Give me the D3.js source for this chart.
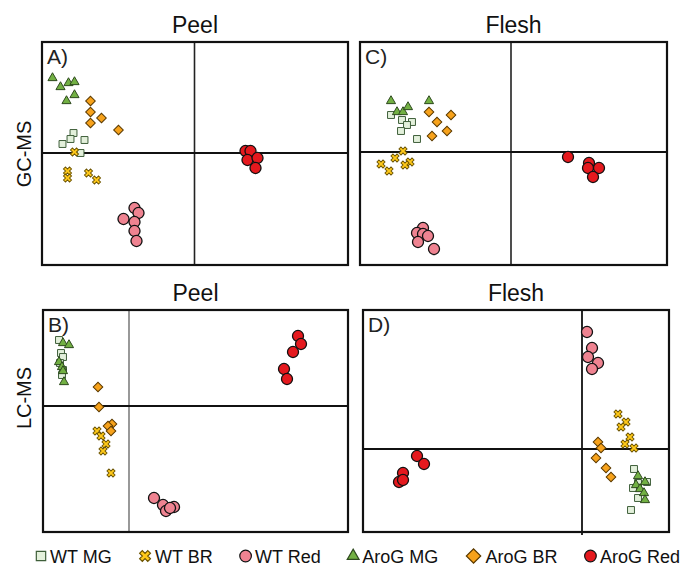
<!DOCTYPE html>
<html><head><meta charset="utf-8">
<script src="https://cdn.jsdelivr.net/npm/d3@7"></script>
<style>
body{margin:0;background:#fff;}
svg{display:block;font-family:"Liberation Sans",Arial,sans-serif;}
</style></head>
<body>
<svg id="chart" width="683" height="570"></svg>
<script>
// ---- Data (PCA scores) ----
const groups = ["WT MG","WT BR","WT Red","AroG MG","AroG BR","AroG Red"];
const panelTitles = ["Peel","Flesh","Peel","Flesh"];
const panelLetters = ["A)","C)","B)","D)"];
const rowLabels = ["GC-MS","LC-MS"];

// Panel A: Peel, GC-MS
const A_WT_MG   = [[-12.1,2.0],[-12.4,1.4],[-13.2,0.9],[-11.0,1.3],[-11.4,0.0]];
const A_WT_BR   = [[-12.0,0.1],[-12.7,-1.8],[-12.7,-2.5],[-10.6,-2.0],[-9.8,-2.7]];
const A_WT_Red  = [[-6.0,-5.5],[-5.6,-6.0],[-7.1,-6.6],[-6.0,-6.9],[-6.0,-7.8],[-5.8,-8.8]];
const A_AroG_MG = [[-14.2,7.5],[-13.4,6.6],[-12.6,7.0],[-12.0,7.1],[-12.8,5.2],[-12.0,5.8]];
const A_AroG_BR = [[-10.4,5.2],[-10.4,4.1],[-9.3,3.5],[-10.4,3.0],[-7.6,2.3]];
const A_AroG_Red= [[5.1,0.2],[5.6,0.2],[5.3,-0.7],[6.3,-0.5],[6.1,-1.5]];

// Panel C: Flesh, GC-MS
const C_WT_MG   = [[-12.0,3.7],[-10.9,3.2],[-9.9,3.0],[-10.4,2.7],[-11.0,2.1],[-9.4,1.3]];
const C_WT_BR   = [[-10.8,0.1],[-11.6,-0.6],[-10.1,-1.0],[-10.6,-1.3],[-13.0,-1.2],[-12.2,-1.9]];
const C_WT_Red  = [[-8.8,-7.6],[-9.4,-8.1],[-8.8,-8.2],[-8.3,-8.4],[-9.3,-9.0],[-7.7,-9.7]];
const C_AroG_MG = [[-12.0,5.1],[-11.4,4.0],[-10.8,4.0],[-10.3,4.5],[-8.2,5.1]];
const C_AroG_BR = [[-8.2,4.0],[-6.0,3.7],[-7.4,3.0],[-6.4,2.1],[-7.9,1.6]];
const C_AroG_Red= [[5.7,-0.5],[7.8,-1.1],[7.7,-1.6],[8.8,-1.6],[8.2,-2.5]];

// Panel B: Peel, LC-MS
const B_WT_MG   = [[-7.0,6.6],[-6.8,5.3],[-6.6,4.9],[-6.9,4.3],[-6.6,3.6],[-6.7,3.1]];
const B_WT_BR   = [[-3.2,-2.5],[-2.8,-3.0],[-2.3,-3.8],[-2.6,-4.5],[-1.8,-6.7]];
const B_WT_Red  = [[2.5,-9.2],[3.4,-9.9],[3.7,-10.5],[4.5,-10.1],[4.1,-10.2]];
const B_AroG_MG = [[-6.6,6.3],[-6.0,6.1],[-7.0,4.4],[-6.7,3.9],[-6.6,3.5],[-6.5,2.4]];
const B_AroG_BR = [[-3.1,1.9],[-3.0,-0.1],[-1.7,-1.8],[-2.1,-2.0],[-1.8,-2.5]];
const B_AroG_Red= [[16.9,7.0],[17.2,6.2],[16.4,5.4],[15.5,3.7],[15.8,2.7]];

// Panel D: Flesh, LC-MS
const D_WT_MG   = [[5.2,-2.0],[5.6,-3.4],[6.5,-3.3],[5.1,-3.9],[5.6,-4.9],[4.9,-6.1]];
const D_WT_BR   = [[3.6,3.5],[4.4,2.7],[3.9,2.2],[4.8,1.2],[4.3,0.5],[5.2,0.1]];
const D_WT_Red  = [[0.5,11.7],[1.0,10.1],[0.6,9.2],[1.6,8.6],[1.0,8.0]];
const D_AroG_MG = [[5.6,-2.7],[6.3,-3.3],[5.4,-3.6],[5.8,-4.0],[6.2,-4.4],[6.3,-5.1]];
const D_AroG_BR = [[1.6,0.7],[1.9,0.1],[1.4,-0.9],[2.4,-1.9],[2.9,-2.8]];
const D_AroG_Red= [[-16.5,-0.7],[-15.8,-1.5],[-17.9,-2.4],[-18.3,-3.3],[-17.9,-3.1]];

// Axis extents of each panel (score units)
const xDomains = [[-15.25,15.35],[-15.1,15.6],[-8.6,21.9],[-21.9,8.7]];
const yDomains = [[-11.2,11.1],[-11.3,11.0],[-12.6,9.6],[-8.3,13.9]];

// ---- Styles ----
const fills   = ["#e3f0db","#ffc91a","#ef8391","#72b043","#f7a21b","#e5191e"];
const strokes = ["#3f5f3a","#6b5300","#111111","#2e4a1e","#5b3a00","#111111"];
const shapes  = ["square","cross","circle","triangle","diamond","circle"];

const panelData = [
  [A_WT_MG,A_WT_BR,A_WT_Red,A_AroG_MG,A_AroG_BR,A_AroG_Red],
  [C_WT_MG,C_WT_BR,C_WT_Red,C_AroG_MG,C_AroG_BR,C_AroG_Red],
  [B_WT_MG,B_WT_BR,B_WT_Red,B_AroG_MG,B_AroG_BR,B_AroG_Red],
  [D_WT_MG,D_WT_BR,D_WT_Red,D_AroG_MG,D_AroG_BR,D_AroG_Red]
];
const boxes = [
  {x0:42,x1:348,y0:42,y1:265},
  {x0:360,x1:667,y0:42,y1:265},
  {x0:43,x1:348,y0:310,y1:532},
  {x0:363,x1:669,y0:310,y1:532}
];
const titleY = [33,33,301,301];
const vAxisStyle = [{w:1.6,c:"#222"},{w:1.6,c:"#222"},{w:1.1,c:"#444"},{w:1.8,c:"#111"}];

function symbolPath(shape, scale){
  scale = scale || 1;
  if(shape==="square") return d3.symbol(d3.symbolSquare, 48*scale*scale)();
  if(shape==="circle") return d3.symbol(d3.symbolCircle, 96*scale*scale)();
  if(shape==="triangle") return d3.symbol(d3.symbolTriangle, 36*scale*scale)();
  if(shape==="diamond") return d3.symbol(d3.symbolSquare, 46*scale*scale)();
  if(shape==="cross") return d3.symbol(d3.symbolCross, 40*scale*scale)();
}
function symbolRot(shape){ return (shape==="diamond"||shape==="cross") ? 45 : 0; }

const svg = d3.select("#chart");

panelData.forEach((series, p) => {
  const b = boxes[p];
  const x = d3.scaleLinear().domain(xDomains[p]).range([b.x0, b.x1]);
  const y = d3.scaleLinear().domain(yDomains[p]).range([b.y1, b.y0]);
  const g = svg.append("g");

  svg.append("text").attr("x",(b.x0+b.x1)/2).attr("y",titleY[p])
    .attr("text-anchor","middle").attr("font-size",23).attr("fill","#111")
    .text(panelTitles[p]);

  const va = vAxisStyle[p];
  g.append("line").attr("x1",x(0)).attr("x2",x(0))
    .attr("y1",b.y0).attr("y2", p===3 ? b.y1+3 : b.y1)
    .attr("stroke",va.c).attr("stroke-width",va.w);
  g.append("line").attr("x1",b.x0).attr("x2",b.x1).attr("y1",y(0)).attr("y2",y(0))
    .attr("stroke","#111").attr("stroke-width",1.8);

  series.forEach((pts, s) => {
    g.selectAll(null).data(pts).enter().append("path")
      .attr("d", symbolPath(shapes[s]))
      .attr("transform", d => `translate(${x(d[0])},${y(d[1])}) rotate(${symbolRot(shapes[s])})`)
      .attr("fill", fills[s]).attr("stroke", strokes[s])
      .attr("stroke-width", shapes[s]==="circle" ? 1.3 : 1);
  });

  g.append("rect").attr("x",b.x0).attr("y",b.y0)
    .attr("width",b.x1-b.x0).attr("height",b.y1-b.y0)
    .attr("fill","none").attr("stroke","#111").attr("stroke-width",2.2);

  g.append("text").attr("x",b.x0+5).attr("y",b.y0+22)
    .attr("font-size",21).attr("fill","#222").text(panelLetters[p]);
});

// row labels
[[31,154],[31,398]].forEach((pos,i)=>{
  svg.append("text").attr("transform",`translate(${pos[0]},${pos[1]}) rotate(-90)`)
    .attr("text-anchor","middle").attr("font-size",20).attr("fill","#111")
    .text(rowLabels[i]);
});

// legend: laid out from x=36 to x=680
const legend = svg.append("g");
const legScale = [1.35,1.35,1.05,1.3,1.5,1.05];
const markerW = [10,12,11,10,16,11];
const items = groups.map((name,i)=>{
  const lg = legend.append("g");
  const mk = lg.append("path").attr("d",symbolPath(shapes[i],legScale[i]))
    .attr("fill",fills[i]).attr("stroke",strokes[i]).attr("stroke-width",1.2);
  const tx = lg.append("text").attr("y",563)
    .attr("font-size",18).attr("fill","#111").text(name);
  return {lg, mk, tx, w: tx.node().getComputedTextLength()};
});
const startX = 36, endX = 680, mGap = 4;
const totalW = d3.sum(items, (d,i)=> markerW[i] + mGap + d.w);
const itemGap = (endX - startX - totalW) / (items.length - 1);
let cx = startX;
items.forEach((it,i)=>{
  const mc = cx + markerW[i]/2;
  it.mk.attr("transform",`translate(${mc},556) rotate(${symbolRot(shapes[i])})`);
  it.tx.attr("x", cx + markerW[i] + mGap);
  cx += markerW[i] + mGap + it.w + itemGap;
});
</script>
</body></html>
